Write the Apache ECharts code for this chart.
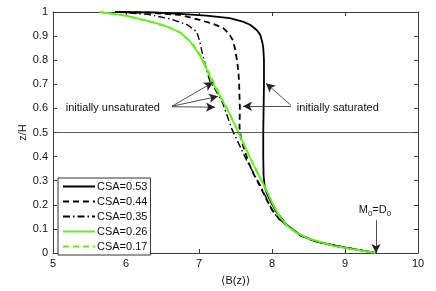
<!DOCTYPE html>
<html>
<head>
<meta charset="utf-8">
<script src="https://cdn.jsdelivr.net/npm/echarts@6/dist/echarts.min.js"></script>
<style>html,body{margin:0;padding:0;background:#fff}#c{width:436px;height:291px}</style>
</head>
<body>
<div id="c"></div>
<script>
const seriesNames = ['CSA=0.53','CSA=0.44','CSA=0.35','CSA=0.26','CSA=0.17'];
const xTicks = [5,6,7,8,9,10];
const yTicks = [0,0.1,0.2,0.3,0.4,0.5,0.6,0.7,0.8,0.9,1];

const csa053 = [[5.9,1.0],[6.4,0.998],[6.74,0.992],[7.1,0.985],[7.42,0.975],[7.6,0.96],[7.7,0.947],[7.79,0.925],[7.84,0.905],[7.87,0.87],[7.88,0.852],[7.89,0.8],[7.89,0.7],[7.885,0.6],[7.88,0.5],[7.88,0.4],[7.885,0.32],[7.9,0.275],[7.94,0.24],[7.98,0.215],[8.05,0.175],[8.2,0.117],[8.4,0.072],[8.6,0.048],[8.9,0.028],[9.2,0.012],[9.42,0.0]];
const csa044 = [[5.85,1.0],[6.3,0.997],[6.74,0.988],[7.01,0.967],[7.2,0.95],[7.33,0.934],[7.41,0.91],[7.46,0.885],[7.49,0.852],[7.52,0.8],[7.54,0.753],[7.55,0.7],[7.56,0.6],[7.555,0.52],[7.58,0.47],[7.63,0.42],[7.68,0.375],[7.76,0.32],[7.84,0.275],[7.92,0.225],[8.0,0.18],[8.1,0.14],[8.21,0.113],[8.38,0.074],[8.6,0.048],[8.9,0.028],[9.2,0.012],[9.42,0.0]];
const csa035 = [[5.85,1.0],[6.3,0.99],[6.6,0.972],[6.84,0.947],[6.97,0.918],[7.01,0.877],[7.05,0.823],[7.11,0.753],[7.15,0.712],[7.22,0.68],[7.32,0.626],[7.45,0.514],[7.55,0.45],[7.66,0.379],[7.75,0.33],[7.84,0.28],[7.97,0.198],[8.01,0.173],[8.1,0.14],[8.21,0.115],[8.38,0.074],[8.6,0.048],[8.9,0.028],[9.2,0.012],[9.42,0.0]];
const csa026 = [[5.64,1.0],[6.0,0.985],[6.37,0.958],[6.56,0.94],[6.74,0.915],[6.88,0.877],[7.0,0.825],[7.1,0.765],[7.19,0.705],[7.3,0.645],[7.4,0.588],[7.5,0.525],[7.6,0.46],[7.7,0.395],[7.8,0.333],[7.9,0.275],[8.0,0.21],[8.1,0.152],[8.2,0.115],[8.3,0.09],[8.48,0.062],[8.84,0.03],[9.1,0.016],[9.42,0.0]];
const csa017 = [[5.64,1.0],[6.0,0.984],[6.37,0.957],[6.6,0.935],[6.76,0.912],[6.9,0.873],[7.02,0.82],[7.12,0.76],[7.21,0.703],[7.31,0.642],[7.41,0.585],[7.51,0.52],[7.61,0.455],[7.71,0.39],[7.81,0.328],[7.91,0.27],[8.01,0.205],[8.11,0.148],[8.21,0.112],[8.32,0.088],[8.5,0.06],[8.85,0.03],[9.1,0.016],[9.42,0.0]];

const refLineY = 0.5;
const arrowsUnsat = [[[6.63,0.609],[7.192,0.708]],[[6.63,0.609],[7.26,0.65]],[[6.63,0.607],[7.219,0.605]]];
const arrowsSat = [[[8.26,0.613],[7.918,0.704]],[[8.26,0.609],[7.603,0.609]]];
const arrowM0 = [[9.425,0.136],[9.425,0.0]];
const labelUnsat = {text:'initially unsaturated', at:[5.82,0.602]};
const labelSat = {text:'initially saturated', at:[8.34,0.602]};
const labelM0 = {at:[9.41,0.177]};

const FONT = '"Liberation Sans", Arial, sans-serif';
const AX = '#3a3a3a';
const GREEN = '#66ee22';

const chart = echarts.init(document.getElementById('c'), null, {renderer:'canvas'});

function axisX(pos, show){
  return {type:'value', position:pos, min:5, max:10, interval:1,
    axisLine:{show:true, onZero:false, lineStyle:{color:AX, width:1}},
    axisTick:{show:true, inside:true, length:4, lineStyle:{color:AX}},
    axisLabel:{show:show, color:'#111', fontSize:11, fontFamily:FONT, margin:5},
    splitLine:{show:false}};
}
function axisY(pos, show){
  return {type:'value', position:pos, min:0, max:1, interval:0.1,
    axisLine:{show:true, onZero:false, lineStyle:{color:AX, width:1}},
    axisTick:{show:true, inside:true, length:4, lineStyle:{color:AX}},
    axisLabel:{show:show, color:'#111', fontSize:11, fontFamily:FONT, margin:5,
      formatter:v=>String(+v.toFixed(1))},
    splitLine:{show:false}};
}
const xb = axisX('bottom', true);
xb.name = '\u27E8B(z)\u27E9'; xb.nameLocation='middle'; xb.nameGap=22; xb.nameMoveOverlap=false;
xb.nameTextStyle = {fontSize:11, fontFamily:FONT, color:'#111'};
const yl = axisY('left', true);
yl.name = 'z/H'; yl.nameLocation='middle'; yl.nameGap=25; yl.nameRotate=90; yl.nameMoveOverlap=false;
yl.nameTextStyle = {fontSize:11, fontFamily:FONT, color:'#111'};

const arrowLine = {color:'#222', width:0.8, type:'solid'};
function seg(p){ return [{coord:p[0]},{coord:p[1]}]; }

const option = {
  animation:false,
  backgroundColor:'#fff',
  grid:{left:53, right:18, top:12, bottom:36, containLabel:false},
  xAxis:[xb, axisX('top', false)],
  yAxis:[yl, axisY('right', false)],
  legend:{
    left:58, top:178, orient:'vertical', itemWidth:32, itemHeight:10, itemGap:4,
    borderColor:'#333', borderWidth:1, backgroundColor:'#fff', padding:[3,3,3,4],
    itemStyle:{opacity:0},
    textStyle:{fontSize:11, fontFamily:FONT, color:'#111', padding:[0,0,0,-3]},
    data:seriesNames
  },
  series:[
    {name:seriesNames[0], type:'line', data:csa053, showSymbol:false, symbol:'none', z:3,
     lineStyle:{color:'#000', width:1.8, type:'solid'}, itemStyle:{color:'#000'},
     markLine:{silent:true, symbol:['none','none'], label:{show:false},
       lineStyle:{color:'#333', width:0.8, type:'solid'},
       data:[{yAxis:refLineY}]}},
    {name:seriesNames[1], type:'line', data:csa044, showSymbol:false, symbol:'none', z:3,
     lineStyle:{color:'#000', width:1.8, type:[6,4]}, itemStyle:{color:'#000'}},
    {name:seriesNames[2], type:'line', data:csa035, showSymbol:false, symbol:'none', z:3,
     lineStyle:{color:'#000', width:1.4, type:[7,3,1.5,3]}, itemStyle:{color:'#000'}},
    {name:seriesNames[3], type:'line', data:csa026, showSymbol:false, symbol:'none', z:4,
     lineStyle:{color:GREEN, width:1.8, type:'solid'}, itemStyle:{color:GREEN}},
    {name:seriesNames[4], type:'line', data:csa017, showSymbol:false, symbol:'none', z:4,
     lineStyle:{color:GREEN, width:1.8, type:[6,4]}, itemStyle:{color:GREEN},
     markLine:{silent:true, symbol:['none','arrow'], symbolSize:[7,9], label:{show:false},
       lineStyle:arrowLine, itemStyle:{color:'#111'},
       data:[...arrowsUnsat.map(seg), ...arrowsSat.map(seg), seg(arrowM0)]}}
  ]
};
chart.setOption(option);

const pU = chart.convertToPixel({gridIndex:0}, labelUnsat.at);
const pS = chart.convertToPixel({gridIndex:0}, labelSat.at);
const pM = chart.convertToPixel({gridIndex:0}, labelM0.at);
chart.setOption({graphic:[
  {type:'text', x:pU[0], y:pU[1], style:{text:labelUnsat.text, font:'11px '+FONT, fill:'#111', align:'center', verticalAlign:'middle'}},
  {type:'text', x:pS[0], y:pS[1], style:{text:labelSat.text, font:'11px '+FONT, fill:'#111', align:'left', verticalAlign:'middle'}},
  {type:'text', x:pM[0], y:pM[1], style:{text:'M{s|0}={n|D}{s|0}', font:'11px '+FONT, fill:'#111', align:'center', verticalAlign:'middle',
     rich:{s:{fontSize:8, fontFamily:FONT, padding:[7,0,0,0]}, n:{fontSize:11, fontFamily:FONT}}}}
]});
</script>
</body>
</html>
